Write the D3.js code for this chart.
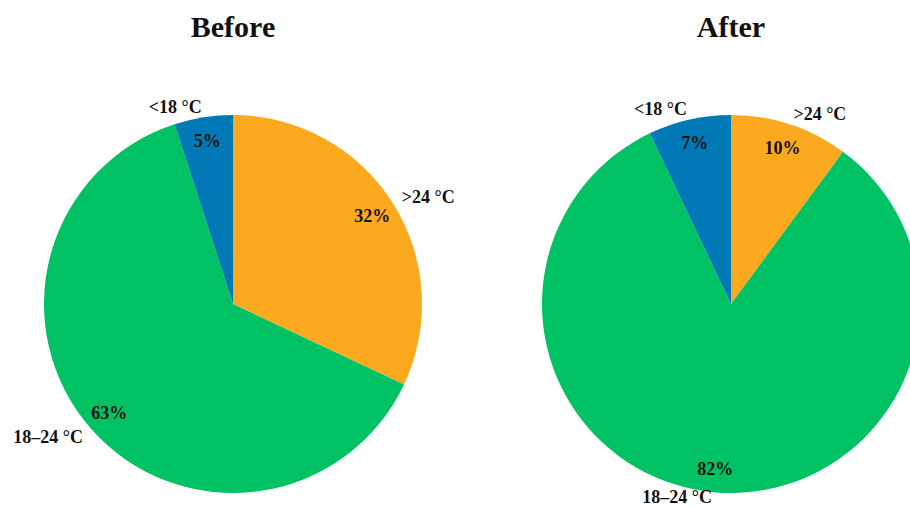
<!DOCTYPE html>
<html>
<head>
<meta charset="utf-8">
<script src="https://cdn.jsdelivr.net/npm/d3@7"></script>
<style>
  html, body { margin: 0; padding: 0; background: #fff; }
  svg text { font-family: "Liberation Serif", "DejaVu Serif", serif; font-weight: bold; fill: #111; }
</style>
</head>
<body>
<svg id="chart" width="910" height="507"></svg>
<script>
// Temperature bands, in drawing order (clockwise from 12 o'clock)
const categories = [">24 °C", "18–24 °C", "<18 °C"];
const colors = ["#FDA91F", "#00C264", "#0179B6"];
const beforeValues = [32, 63, 5];
const afterValues = [10, 82, 7];
const panelTitles = ["Before", "After"];

const width = 910, height = 507;
const svg = d3.select("#chart");
const radius = 189;
const pctRadius = 165;
const labelRadius = 200;

const panels = [
  { title: panelTitles[0], values: beforeValues, cx: 233, cy: 304 },
  { title: panelTitles[1], values: afterValues, cx: 731, cy: 304 }
];

const pie = d3.pie().sort(null).value(d => d.value);
const arc = d3.arc().innerRadius(0).outerRadius(radius);
const color = d3.scaleOrdinal().domain(categories).range(colors);

function pointAt(angle, r) {
  return [r * Math.sin(angle), -r * Math.cos(angle)];
}

panels.forEach(p => {
  const data = categories.map((c, i) => ({ category: c, value: p.values[i] }));
  const arcs = pie(data);

  svg.append("text")
    .attr("x", p.cx)
    .attr("y", 37)
    .attr("text-anchor", "middle")
    .style("font-size", "30px")
    .text(p.title);

  const g = svg.append("g").attr("transform", `translate(${p.cx},${p.cy})`);

  g.selectAll("path")
    .data(arcs)
    .join("path")
    .attr("d", arc)
    .attr("fill", d => color(d.data.category));

  // Percentage labels inside each slice
  g.selectAll("text.pct")
    .data(arcs)
    .join("text")
    .attr("class", "pct")
    .attr("transform", d => {
      const m = (d.startAngle + d.endAngle) / 2;
      return `translate(${pointAt(m, pctRadius)})`;
    })
    .attr("text-anchor", "middle")
    .attr("dy", "0.35em")
    .style("font-size", "18px")
    .text(d => d.data.value + "%");

  // Category labels just outside the rim, kept inside the canvas
  g.selectAll("text.cat")
    .data(arcs)
    .join("text")
    .attr("class", "cat")
    .attr("transform", d => {
      const m = (d.startAngle + d.endAngle) / 2;
      const [x, y] = pointAt(m, labelRadius);
      return `translate(${x},${Math.min(y, height - 10 - p.cy)})`;
    })
    .attr("text-anchor", d => {
      const m = (d.startAngle + d.endAngle) / 2;
      return Math.sin(m) < 0 ? "end" : "start";
    })
    .attr("dy", "0.35em")
    .style("font-size", "18px")
    .text(d => d.data.category);
});
</script>
</body>
</html>
